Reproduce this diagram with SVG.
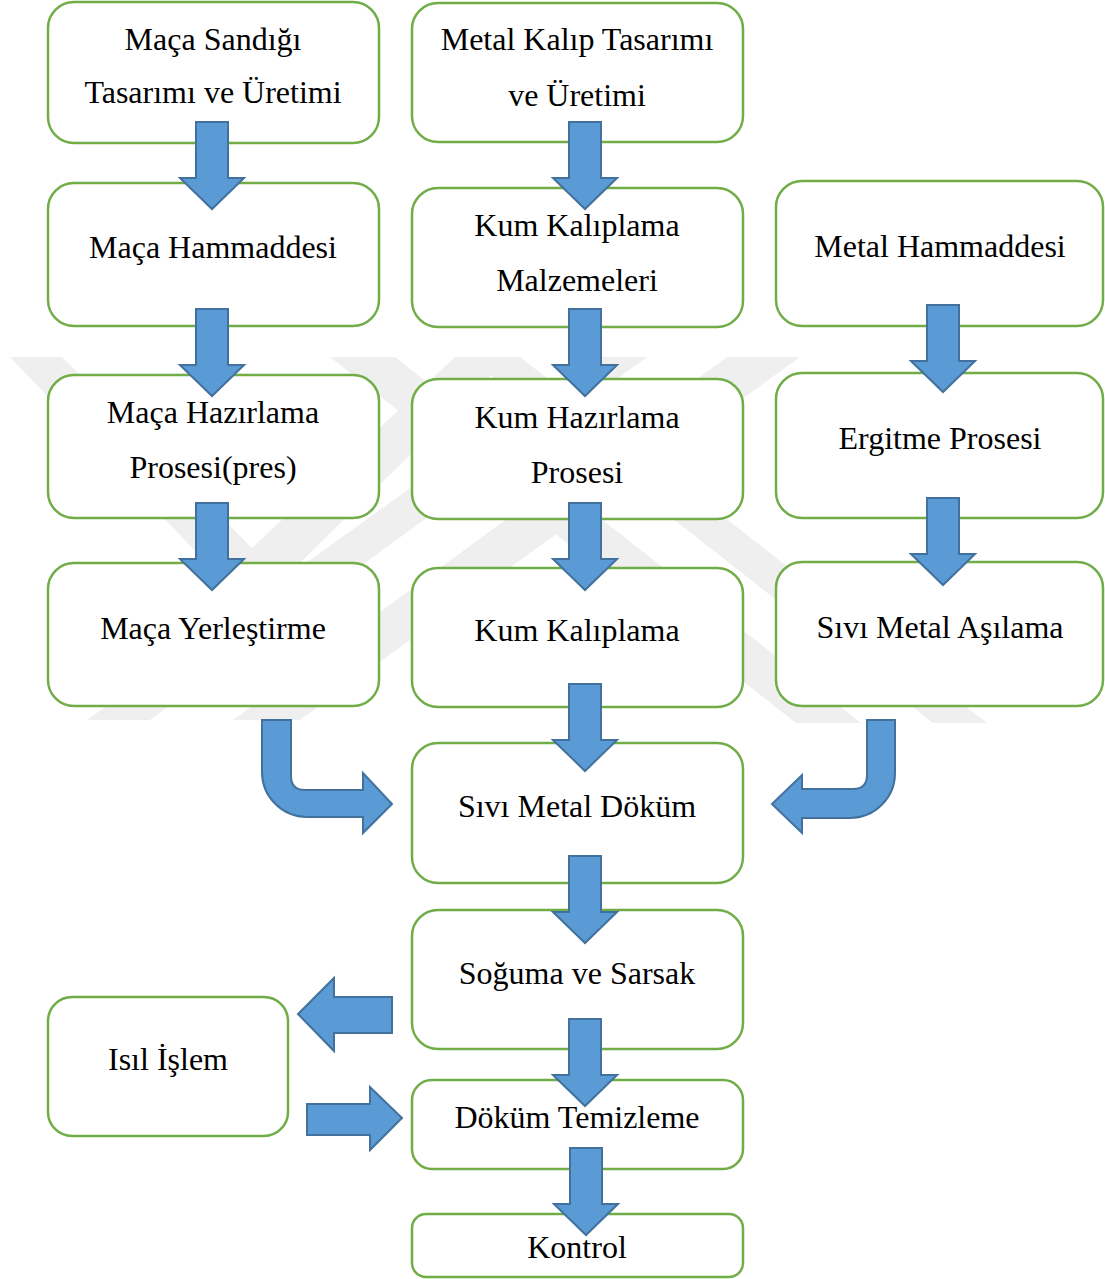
<svg xmlns="http://www.w3.org/2000/svg" width="1105" height="1279" viewBox="0 0 1105 1279">
<style>
.box{fill:#fff;stroke:#70ad47;stroke-width:2.5}
.t{font-family:"Liberation Serif","Times New Roman",serif;font-size:32px;fill:#000;text-anchor:middle}
.arr{fill:#5b9bd5;stroke:#41719c;stroke-width:2}
.wm{fill:#efefef}
</style>
<defs>
<path id="down" d="M-16,0 H16 V56 H32 L0,87 L-32,56 H-16 Z"/>
</defs>
<rect width="1105" height="1279" fill="#fff"/>
<g id="watermark">
<polygon class="wm" points="10,357 62,357 252,548 455,357 510,357 262,600 242,600"/>
<polygon class="wm" points="330,357 395,357 861,723 796,723"/>
<polygon class="wm" points="467,357 520,357 987,723 933,723"/>
<polygon class="wm" points="593,357 647,357 150,720 87,720"/>
<polygon class="wm" points="727,357 800,357 300,720 233,720"/>
</g>
<g id="n1"><rect class="box" x="48" y="2" width="331" height="141" rx="26"/><text class="t" x="213" y="50">Maça Sandığı</text><text class="t" x="213" y="103">Tasarımı ve Üretimi</text></g>
<g id="n2"><rect class="box" x="48" y="183" width="331" height="143" rx="26"/><text class="t" x="213" y="258">Maça Hammaddesi</text></g>
<g id="n3"><rect class="box" x="48" y="375" width="331" height="143" rx="26"/><text class="t" x="213" y="423">Maça Hazırlama</text><text class="t" x="213" y="478">Prosesi(pres)</text></g>
<g id="n4"><rect class="box" x="48" y="563" width="331" height="143" rx="26"/><text class="t" x="213" y="639">Maça Yerleştirme</text></g>
<g id="n5"><rect class="box" x="412" y="3" width="331" height="139" rx="26"/><text class="t" x="577" y="50">Metal Kalıp Tasarımı</text><text class="t" x="577" y="106">ve Üretimi</text></g>
<g id="n6"><rect class="box" x="412" y="188" width="331" height="139" rx="26"/><text class="t" x="577" y="236">Kum Kalıplama</text><text class="t" x="577" y="291">Malzemeleri</text></g>
<g id="n7"><rect class="box" x="412" y="379" width="331" height="140" rx="26"/><text class="t" x="577" y="428">Kum Hazırlama</text><text class="t" x="577" y="483">Prosesi</text></g>
<g id="n8"><rect class="box" x="412" y="568" width="331" height="139" rx="26"/><text class="t" x="577" y="641">Kum Kalıplama</text></g>
<g id="n9"><rect class="box" x="412" y="743" width="331" height="140" rx="26"/><text class="t" x="577" y="817">Sıvı Metal Döküm</text></g>
<g id="n10"><rect class="box" x="412" y="910" width="331" height="139" rx="26"/><text class="t" x="577" y="984">Soğuma ve Sarsak</text></g>
<g id="n11"><rect class="box" x="412" y="1080" width="331" height="89" rx="20"/><text class="t" x="577" y="1128">Döküm Temizleme</text></g>
<g id="n12"><rect class="box" x="412" y="1214" width="331" height="63" rx="14"/><text class="t" x="577" y="1258">Kontrol</text></g>
<g id="n13"><rect class="box" x="776" y="181" width="327" height="145" rx="26"/><text class="t" x="940" y="257">Metal Hammaddesi</text></g>
<g id="n14"><rect class="box" x="776" y="373" width="327" height="145" rx="26"/><text class="t" x="940" y="449">Ergitme Prosesi</text></g>
<g id="n15"><rect class="box" x="776" y="562" width="327" height="144" rx="26"/><text class="t" x="940" y="638">Sıvı Metal Aşılama</text></g>
<g id="n16"><rect class="box" x="48" y="997" width="240" height="139" rx="24"/><text class="t" x="168" y="1070">Isıl İşlem</text></g>
<g id="connectors">
<use href="#down" class="arr" x="212" y="122"/>
<use href="#down" class="arr" x="212" y="309"/>
<use href="#down" class="arr" x="212" y="503"/>
<use href="#down" class="arr" x="585" y="122"/>
<use href="#down" class="arr" x="585" y="309"/>
<use href="#down" class="arr" x="585" y="503"/>
<use href="#down" class="arr" x="585" y="684"/>
<use href="#down" class="arr" x="585" y="856"/>
<use href="#down" class="arr" x="585" y="1019"/>
<use href="#down" class="arr" x="586" y="1148"/>
<use href="#down" class="arr" x="943" y="305"/>
<use href="#down" class="arr" x="943" y="498"/>
<path class="arr" d="M262,720 L291,720 L291,776 Q291,790 305,790 L363,790 L363,773 L392,804 L363,833 L363,817 L307,817 A45,45 0 0 1 262,772 Z"/>
<path class="arr" d="M895,720 L867,720 L867,775 Q867,789 853,789 L802,789 L802,775 L772,804 L802,833 L802,818 L850,818 A45,45 0 0 0 895,773 Z"/>
<path class="arr" d="M392,997 L392,1033 L334,1033 L334,1051 L298,1014 L334,978 L334,997 Z"/>
<path class="arr" d="M307,1104 L370,1104 L370,1087 L402,1118 L370,1150 L370,1135 L307,1135 Z"/>
</g>
</svg>
